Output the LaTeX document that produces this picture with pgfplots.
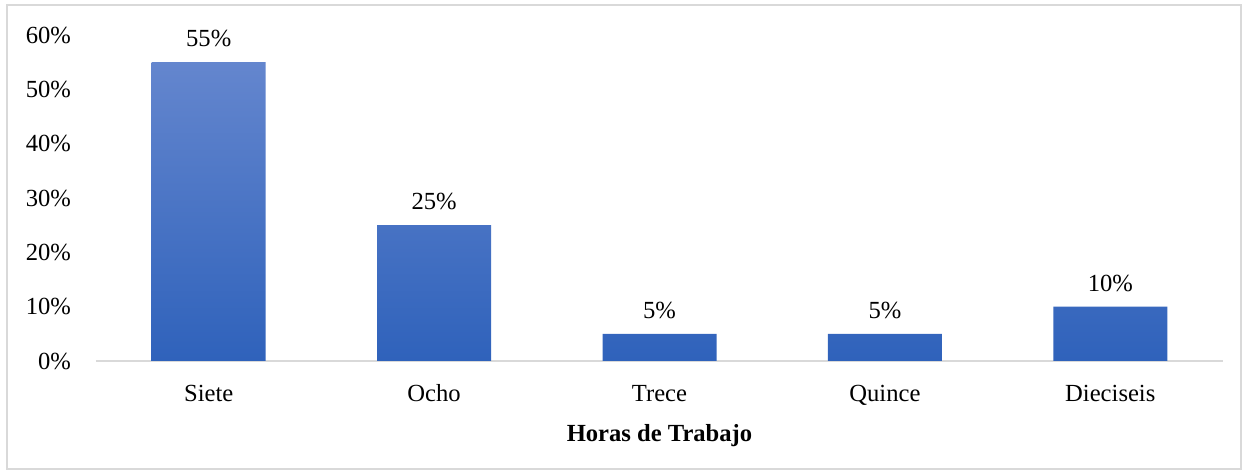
\documentclass[border=0pt]{standalone}
\usepackage{pgfplots}
\pgfplotsset{compat=1.18}
\usepackage{fontspec}
\setmainfont{Liberation Serif}
\definecolor{barTop}{RGB}{100,134,206}
\definecolor{barBot}{RGB}{47,98,187}
\definecolor{axgray}{RGB}{217,217,217}
\begin{document}
\begin{tikzpicture}
\path[use as bounding box] (-48pt,-57pt) rectangle (576.5pt,180.5pt);
\draw[axgray, line width=1pt] (-44.5pt,-54pt) rectangle (572.5pt,178pt);
\begin{axis}[
  at={(0pt,0pt)}, anchor=south west,
  scale only axis, width=563.5pt, height=163pt,
  ymin=0, ymax=60,
  xmin=-0.5, xmax=4.5,
  ybar, bar width=57pt,
  xtick=data,
  xticklabels={Siete,Ocho,Trece,Quince,Dieciseis},
  ytick={0,10,20,30,40,50,60},
  yticklabel={\pgfmathprintnumber{\tick}\%},
  /pgf/number format/assume math mode=true,
  ticklabel style={font=\fontsize{12.3}{14}\selectfont},
  yticklabel style={xshift=-9pt},
  xticklabel style={text height=1.6ex, text depth=0.3ex, yshift=-9.5pt},
  axis line style={draw=none},
  axis x line*=bottom, axis y line*=left,
  major tick length=0pt,
  xlabel={\textbf{Horas de Trabajo}},
  xlabel style={font=\fontsize{12.3}{14}\selectfont, yshift=-3pt},
  nodes near coords={\pgfmathprintnumber{\pgfplotspointmeta}\%},
  nodes near coords style={font=\fontsize{12.3}{14}\selectfont, yshift=4pt, /pgf/number format/assume math mode=true},
  clip=false,
]
\draw[axgray, line width=1pt] (axis cs:-0.5,0) -- (axis cs:4.5,0);
\addplot[draw=none, top color=barTop, bottom color=barBot] coordinates {(0,55) (1,25) (2,5) (3,5) (4,10)};
\end{axis}
\end{tikzpicture}
\end{document}
